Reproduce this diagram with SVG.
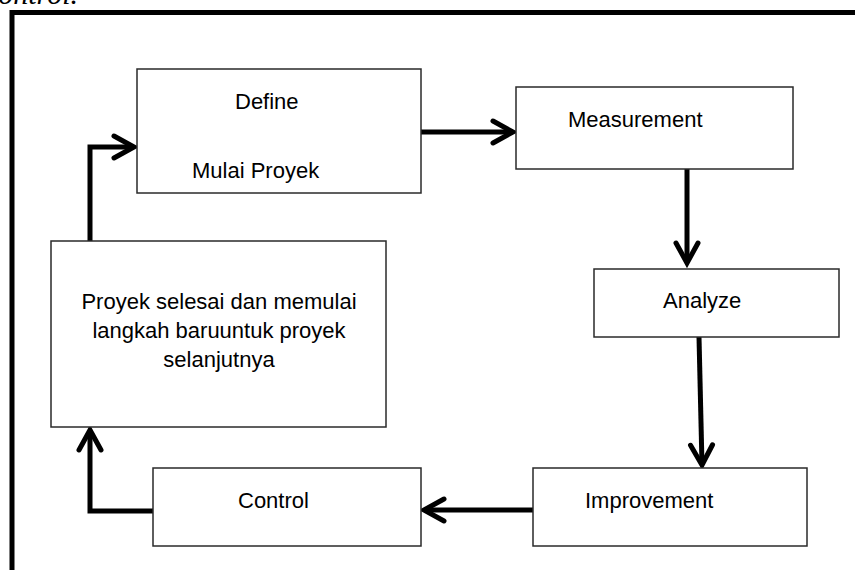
<svg xmlns="http://www.w3.org/2000/svg" width="855" height="570" viewBox="0 0 855 570">
<style>
.box{fill:#fff;stroke:#2a2a2a;stroke-width:1.5}
.lbl{font-family:"Liberation Sans",Arial,sans-serif;font-size:22px;fill:#000}
.con{fill:none;stroke:#000;stroke-width:5}
.frame{fill:none;stroke:#000;stroke-width:5}
</style>
<defs>
<marker id="arr" markerUnits="userSpaceOnUse" markerWidth="30" markerHeight="30" viewBox="-25 -15 30 30" refX="0" refY="0" orient="auto" overflow="visible">
<path d="M-20,-11 L0,0 L-20,11" fill="none" stroke="#000" stroke-width="5" stroke-linecap="round" stroke-linejoin="miter"/>
</marker>
</defs>
<rect width="855" height="570" fill="#fff"/>
<text x="78" y="4" text-anchor="end" font-family="'Liberation Serif','Times New Roman',serif" font-style="italic" font-size="30">Control.</text>
<path class="frame" d="M12,570 L12,12.5 L855,12.5"/>
<g id="connectors">
<path class="con" d="M421,132 L513,132" marker-end="url(#arr)"/>
<path class="con" d="M687,169 L687,263" marker-end="url(#arr)"/>
<path class="con" d="M699,337 L702,465" marker-end="url(#arr)"/>
<path class="con" d="M533,510 L424,510" marker-end="url(#arr)"/>
<path class="con" d="M153,511 L90,511 L90,430" marker-end="url(#arr)"/>
<path class="con" d="M90,241 L90,147 L134,147" marker-end="url(#arr)"/>
</g>
<g id="define">
<rect class="box" x="137" y="69" width="284" height="124"/>
<text class="lbl" x="235" y="109">Define</text>
<text class="lbl" x="192" y="178">Mulai Proyek</text>
</g>
<g id="measurement">
<rect class="box" x="516" y="87" width="277" height="82"/>
<text class="lbl" x="568" y="127">Measurement</text>
</g>
<g id="analyze">
<rect class="box" x="594" y="269" width="245" height="68"/>
<text class="lbl" x="663" y="308">Analyze</text>
</g>
<g id="improvement">
<rect class="box" x="533" y="468" width="274" height="78"/>
<text class="lbl" x="585" y="508">Improvement</text>
</g>
<g id="control">
<rect class="box" x="153" y="468" width="268" height="78"/>
<text class="lbl" x="238" y="508">Control</text>
</g>
<g id="proyek">
<rect class="box" x="51" y="241" width="335" height="186"/>
<text class="lbl" text-anchor="middle" x="219" y="309">Proyek selesai dan memulai</text>
<text class="lbl" text-anchor="middle" x="219" y="338">langkah baruuntuk proyek</text>
<text class="lbl" text-anchor="middle" x="219" y="367">selanjutnya</text>
</g>
</svg>
